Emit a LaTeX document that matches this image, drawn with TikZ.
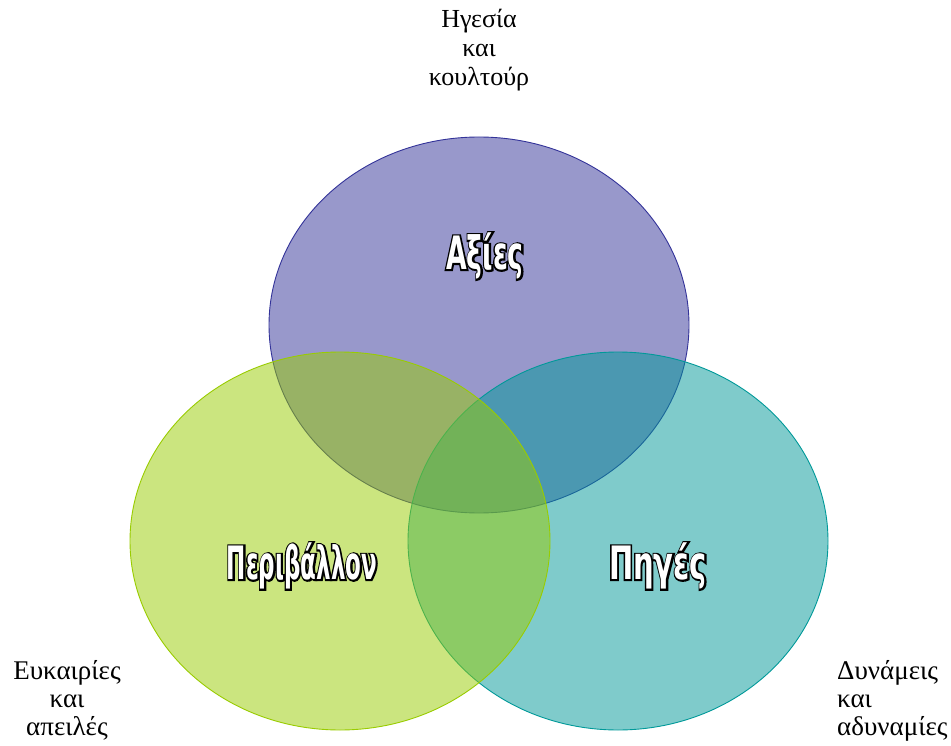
\documentclass[tikz,border=0pt]{standalone}
\usepackage{fontspec}
\setmainfont{Liberation Serif}
\newfontfamily\labA[FakeStretch=0.58]{DejaVu Sans Bold}
\newfontfamily\labAo[FakeStretch=0.58,FakeBold=7]{DejaVu Sans Bold}
\newfontfamily\labB[FakeStretch=0.50]{DejaVu Sans Bold}
\newfontfamily\labBo[FakeStretch=0.50,FakeBold=7]{DejaVu Sans Bold}
\newfontfamily\labC[FakeStretch=0.63]{DejaVu Sans Bold}
\newfontfamily\labCo[FakeStretch=0.63,FakeBold=7]{DejaVu Sans Bold}
\newcommand\outlined[3]{\makebox[0pt][l]{\color{black}#2#3}{\color{white}#1#3}}
\definecolor{pfill}{RGB}{51,51,153}
\definecolor{tfill}{RGB}{0,153,153}
\definecolor{gfill}{RGB}{153,204,0}
\tikzset{
  circ/.style={fill opacity=0.5, line width=0.9pt},
  big/.style={font=\fontsize{46}{50}\selectfont, inner sep=0pt},
  side/.style={font=\fontsize{27}{28}\selectfont, inner sep=0pt, anchor=north},
  topside/.style={font=\fontsize{26}{29}\selectfont, inner sep=0pt, anchor=north}
}
\begin{document}
\begin{tikzpicture}[x=1pt,y=-1pt]
\useasboundingbox (0,0) rectangle (951,746);
\fill[white] (0,0) rectangle (951,746);
\path[circ, draw=pfill, fill=pfill] (479,325) ellipse [x radius=210pt, y radius=188pt];
\path[circ, draw=tfill, fill=tfill] (618,541) ellipse [x radius=210pt, y radius=189pt];
\path[circ, draw=gfill, fill=gfill] (340,541) ellipse [x radius=210pt, y radius=189pt];
\node[big] (vals) at (485,256) {\outlined{\labA}{\labAo}{Αξίες}};
\node[big] (env) at (302,566) {\outlined{\labB}{\labBo}{Περιβάλλον}};
\node[big] (res) at (658,566) {\outlined{\labC}{\labCo}{Πηγές}};
\node[topside, align=center] (lead) at (479,9) {Ηγεσία\\και\\κουλτούρ};
\node[side, align=center] (opp) at (67,660) {Ευκαιρίες\\και\\απειλές};
\node[side, align=left, anchor=north west] (str) at (837,660) {Δυνάμεις\\και\\αδυναμίες};
\end{tikzpicture}
\end{document}
